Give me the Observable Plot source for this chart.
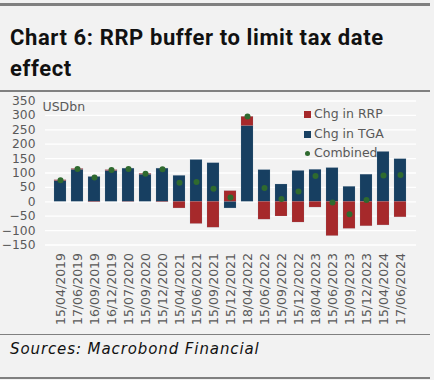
<!DOCTYPE html>
<html>
<head>
<meta charset="utf-8">
<script src="https://cdn.jsdelivr.net/npm/d3@7"></script>
<script src="https://cdn.jsdelivr.net/npm/@observablehq/plot@0.6"></script>
<style>
  html, body { margin: 0; padding: 0; background: #f2f2f2; }
  #wrap { position: relative; width: 434px; height: 380px; background: #f2f2f2; overflow: hidden; }
  .rule { position: absolute; left: 0; width: 430px; background: #808080; }
  #title { position: absolute; left: 10px; top: 22px; font-family: Roboto, sans-serif; font-weight: 700; font-size: 22px; line-height: 31px; color: #111; letter-spacing: 0.6px; white-space: nowrap; }
  #chart { position: absolute; left: 0; top: 92px; }
  #source { position: absolute; left: 10px; top: 340px; font-family: "DejaVu Sans", sans-serif; font-style: italic; font-size: 15px; letter-spacing: 0.9px; color: #111; }
  #legend { position: absolute; left: 302px; top: 105px; font-family: "DejaVu Sans", sans-serif; font-size: 12.5px; color: #595959; }
  .lrow { position: absolute; left: 0; height: 18px; line-height: 18px; white-space: nowrap; padding-left: 12px; }
  .sw { position: absolute; left: 2px; top: 6px; width: 7px; height: 7px; }
  .dt { position: absolute; left: 3px; top: 7px; width: 5px; height: 5px; border-radius: 50%; }
</style>
</head>
<body>
<div id="wrap">
  <div class="rule" style="top:3px;height:3px;"></div>
  <div id="title">Chart 6: RRP buffer to limit tax date<br>effect</div>
  <div class="rule" style="top:90px;height:1.5px;"></div>
  <div id="chart"></div>
  <div id="legend"></div>
  <div class="rule" style="top:334px;height:1.2px;"></div>
  <div id="source">Sources: Macrobond Financial</div>
  <div class="rule" style="top:377px;height:1.5px;"></div>
</div>
<script>
const dates = ["15/04/2019","17/06/2019","16/09/2019","16/12/2019","15/07/2020","15/09/2020","15/12/2020","15/04/2021","15/06/2021","15/09/2021","15/12/2021","18/04/2022","15/06/2022","15/09/2022","15/12/2022","18/04/2023","15/06/2023","15/09/2023","15/12/2023","15/04/2024","17/06/2024"];
const chgRRP = [3, 3, -2, 3, -1, 3, -2, -23, -77, -90, 37, 32, -62, -51, -72, -20, -119, -94, -85, -82, -54];
const chgTGA = [72, 111, 86, 107, 115, 94, 115, 90, 145, 134, -23, 263, 110, 60, 107, 111, 117, 52, 94, 173, 148];
const combined = [75, 114, 84, 110, 114, 97, 113, 66, 69, 45, 15, 296, 48, 10, 36, 90, -2, -43, 6, 91, 93];
const seriesNames = ["Chg in RRP", "Chg in TGA", "Combined"];
const yTicks = [-150, -100, -50, 0, 50, 100, 150, 200, 250, 300, 350];
const unitLabel = "USDbn";

const RED = "#a6292b", BLUE = "#173f61", GREEN = "#2f6a2f";

const long = [];
dates.forEach((d, i) => long.push({date: d, series: "Chg in TGA", value: chgTGA[i]}));
dates.forEach((d, i) => long.push({date: d, series: "Chg in RRP", value: chgRRP[i]}));
const comb = dates.map((d, i) => ({date: d, value: combined[i]}));

const plot = Plot.plot({
  width: 434,
  height: 242,
  marginLeft: 45,
  marginRight: 18,
  marginTop: 8.5,
  marginBottom: 89.5,
  style: {fontFamily: "DejaVu Sans, sans-serif", fontSize: "12px", color: "#595959", background: "transparent", overflow: "visible"},
  x: {type: "band", domain: dates, paddingInner: 0.29, paddingOuter: 0.16, label: null},
  y: {domain: [-150, 350], label: null},
  color: {domain: ["Chg in RRP", "Chg in TGA"], range: [RED, BLUE]},
  marks: [
    Plot.gridY(yTicks, {stroke: "#ffffff", strokeOpacity: 1, strokeWidth: 1.3}),
    Plot.axisY(yTicks, {tickSize: 0, tickPadding: 10, label: null, fontSize: 12.3}),
    Plot.axisX({tickRotate: -90, tickSize: 0, tickPadding: 8, label: null, fontSize: 12.5}),
    Plot.barY(long, Plot.stackY({x: "date", y: "value", z: "series", fill: "series", order: ["Chg in TGA", "Chg in RRP"], stroke: "#8fa3b8", strokeOpacity: 0.25, strokeWidth: 0.6})),
    Plot.dot(comb, {x: "date", y: "value", r: 3, fill: GREEN, stroke: "none"}),
    Plot.text([unitLabel], {frameAnchor: "top-left", dx: -3, dy: 1, textAnchor: "start", fontSize: 12.5, fill: "#595959"})
  ]
});
document.getElementById("chart").appendChild(plot);

const legend = document.getElementById("legend");
const swatch = [RED, BLUE, GREEN];
seriesNames.forEach((name, i) => {
  const row = document.createElement("div");
  row.className = "lrow";
  row.style.top = (i * 19.5) + "px";
  const mk = document.createElement("span");
  mk.className = i === 2 ? "dt" : "sw";
  mk.style.background = swatch[i];
  row.appendChild(mk);
  row.appendChild(document.createTextNode(name));
  legend.appendChild(row);
});
</script>
</body>
</html>
